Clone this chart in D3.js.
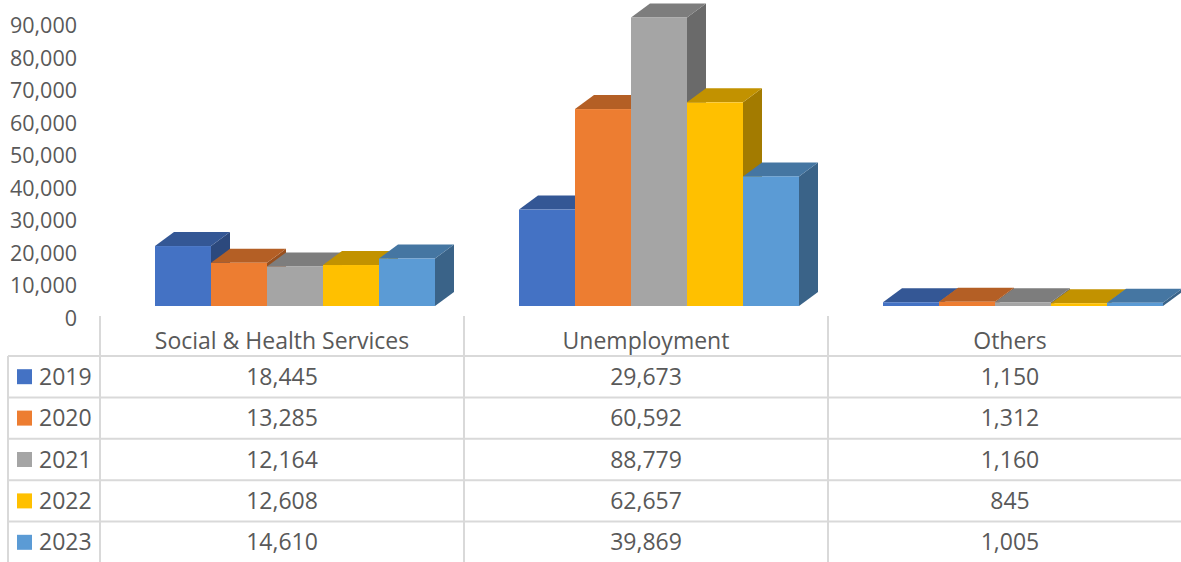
<!DOCTYPE html>
<html>
<head>
<meta charset="utf-8">
<script src="https://cdn.jsdelivr.net/npm/d3@7"></script>
<style>
  html, body { margin: 0; padding: 0; background: #fff; }
  svg { display: block; }
  text { font-family: "Open Sans", sans-serif; fill: #595959; }
</style>
</head>
<body>
<svg id="chart" width="1181" height="562"></svg>
<script>
// Expenditure by category, 2019–2023
const categories = ["Social & Health Services", "Unemployment", "Others"];
const years = ["2019", "2020", "2021", "2022", "2023"];
const values2019 = [18445, 29673, 1150];
const values2020 = [13285, 60592, 1312];
const values2021 = [12164, 88779, 1160];
const values2022 = [12608, 62657, 845];
const values2023 = [14610, 39869, 1005];
const yTicks = [0, 10000, 20000, 30000, 40000, 50000, 60000, 70000, 80000, 90000];

const series = [values2019, values2020, values2021, values2022, values2023];
const colors = ["#4472C4", "#ED7D31", "#A5A5A5", "#FFC000", "#5B9BD5"];

const W = 1181, H = 562;
const svg = d3.select("#chart");

// 3D depth offset of the bars
const depthX = 19, depthY = -14;

// Value scale for the bar fronts, and the same scale projected onto the back wall
const y = d3.scaleLinear().domain([0, 90000]).range([306, 13.5]);
const yWall = d3.scaleLinear().domain([0, 90000]).range([317.5, 25]);

// Category bands for the bars
const x0 = d3.scaleBand().domain(categories)
  .range([113, 113 + 1092]).paddingInner(84 / 364).paddingOuter(42 / 364);
const x1 = d3.scaleBand().domain(years).range([0, x0.bandwidth()]);

// Table columns
const col = d3.scaleBand().domain(categories).range([100, 100 + 3 * 364]);
const row = d3.scaleBand().domain(years).range([356, 356 + 5 * 41.4]);

// Value axis on the back wall
const axis = d3.axisLeft(yWall).tickValues(yTicks).tickFormat(d3.format(","))
  .tickSize(0).tickPadding(3);
const gAxis = svg.append("g").attr("transform", "translate(80,0)").call(axis);
gAxis.select(".domain").remove();
gAxis.selectAll("text").style("font-family", '"Open Sans", sans-serif')
  .style("font-size", "21.5px").attr("fill", "#595959").attr("dy", "0.35em");

// Bars: painted left to right so each bar hides the side of its neighbour
const shade = (c, k) => { const r = d3.rgb(c); return d3.rgb(r.r * k, r.g * k, r.b * k).formatHex(); };
const bars = svg.append("g");
categories.forEach((cat, ci) => {
  years.forEach((yr, si) => {
    const v = series[si][ci];
    const xl = x0(cat) + x1(yr), xr = xl + x1.bandwidth();
    const yt = y(v), yb = y(0);
    const g = bars.append("g");
    // side face
    g.append("path")
      .attr("d", `M${xr},${yb}L${xr + depthX},${yb + depthY}L${xr + depthX},${yt + depthY}L${xr},${yt}Z`)
      .attr("fill", shade(colors[si], 0.64));
    // top face
    g.append("path")
      .attr("d", `M${xl},${yt}L${xl + depthX},${yt + depthY}L${xr + depthX},${yt + depthY}L${xr},${yt}Z`)
      .attr("fill", shade(colors[si], 0.76));
    // front face
    g.append("rect")
      .attr("x", xl).attr("y", yt).attr("width", x1.bandwidth()).attr("height", yb - yt)
      .attr("fill", colors[si]);
  });
});

// Data table grid
const grid = svg.append("g").attr("stroke", "#D9D9D9").attr("stroke-width", 2).attr("fill", "none");
const rowEdges = years.map(yr => row(yr)).concat([row.range()[1]]);
rowEdges.forEach(ry => {
  grid.append("line").attr("x1", 8).attr("x2", W).attr("y1", ry).attr("y2", ry);
});
grid.append("line").attr("x1", 8).attr("x2", 8).attr("y1", row.range()[0]).attr("y2", H + 2);
categories.forEach(cat => {
  grid.append("line").attr("x1", col(cat)).attr("x2", col(cat)).attr("y1", 316).attr("y2", H + 2);
});

// Category header
const table = svg.append("g").style("font-size", "23px");
categories.forEach(cat => {
  table.append("text").attr("x", col(cat) + col.bandwidth() / 2).attr("y", 341)
    .attr("dy", "0.35em").attr("text-anchor", "middle").text(cat);
});

// Legend keys and values
const fmt = d3.format(",");
years.forEach((yr, si) => {
  const cy = row(yr) + row.bandwidth() / 2;
  table.append("rect").attr("x", 17).attr("y", cy - 7.5).attr("width", 15).attr("height", 15)
    .attr("fill", colors[si]);
  table.append("text").attr("x", 39).attr("y", cy).attr("dy", "0.35em").text(yr);
  categories.forEach((cat, ci) => {
    table.append("text").attr("x", col(cat) + col.bandwidth() / 2).attr("y", cy)
      .attr("dy", "0.35em").attr("text-anchor", "middle").text(fmt(series[si][ci]));
  });
});
</script>
</body>
</html>
